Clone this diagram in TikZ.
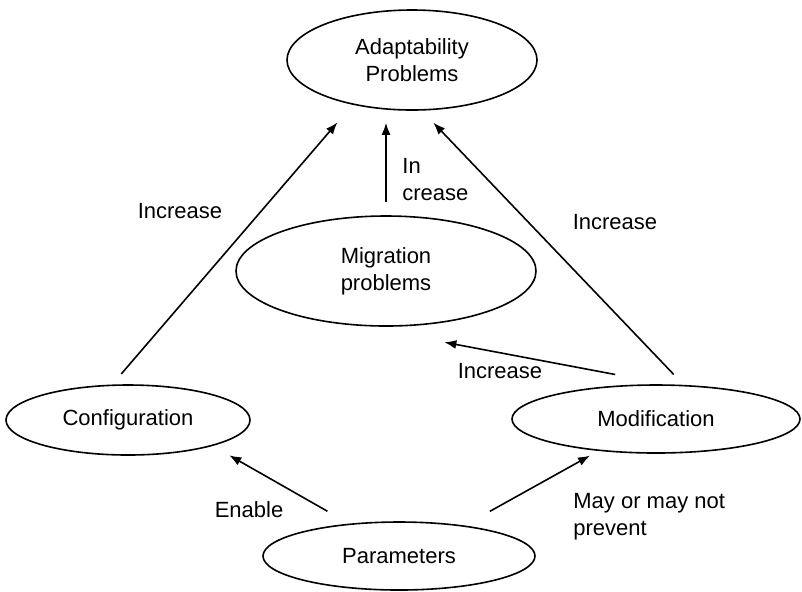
\documentclass[tikz,border=0pt]{standalone}
\usepackage{fontspec}
\setmainfont{Liberation Sans}
\usepackage{tikz}
\usetikzlibrary{shapes.geometric,arrows.meta}

\begin{document}
\begin{tikzpicture}[x=0.5pt,y=-0.5pt,
  every node/.style={font=\fontsize{11}{13.5}\selectfont},
  problem/.style={ellipse,draw,line width=0.8pt,inner sep=0pt,align=center},
  arr/.style={line width=0.8pt,-{Latex[length=6pt,width=4.5pt]}},
  lbl/.style={inner sep=0pt,align=left}]

  \useasboundingbox (0,0) rectangle (802,591);

  % ellipses
  \node[problem,minimum width=125pt,minimum height=50pt] (adp) at (412,60) {Adaptability\\Problems};
  \node[problem,minimum width=150pt,minimum height=55pt] (mig) at (386,271) {Migration\\problems};
  \node[problem,minimum width=122pt,minimum height=35pt] (cfg) at (128,420) {Configuration};
  \node[problem,minimum width=144pt,minimum height=34pt] (mod) at (656,419) {Modification};
  \node[problem,minimum width=136pt,minimum height=34pt] (par) at (399,556) {Parameters};

  % arrows
  \draw[arr,shorten <=7pt,shorten >=11.6pt] (cfg.114) -- (adp.217);
  \draw[arr,shorten <=6.5pt,shorten >=6pt] (mig.north) -- (mig.north |- adp.south);
  \draw[arr,shorten <=7.2pt,shorten >=8.3pt] (mod.51) -- (adp.281);
  \draw[arr,shorten <=26.5pt,shorten >=44.5pt] (mod.72) -- (mig.242);
  \draw[arr,shorten <=12.5pt,shorten >=9.5pt] (par.147) -- (cfg.343);
  \draw[arr,shorten <=14.5pt,shorten >=4.8pt] (par.25) -- (mod.209);

  % labels
  \node[lbl] (incl) at (180,211) {Increase};
  \node[lbl,anchor=north west] (incm) at (402,158) {In\\crease};
  \node[lbl] (incr) at (615,222) {Increase};
  \node[lbl] (incb) at (500,371) {Increase};
  \node[lbl] (enb) at (249,510) {Enable};
  \node[lbl,anchor=north west] (may) at (573,493) {May or may not\\prevent};
\end{tikzpicture}
\end{document}
